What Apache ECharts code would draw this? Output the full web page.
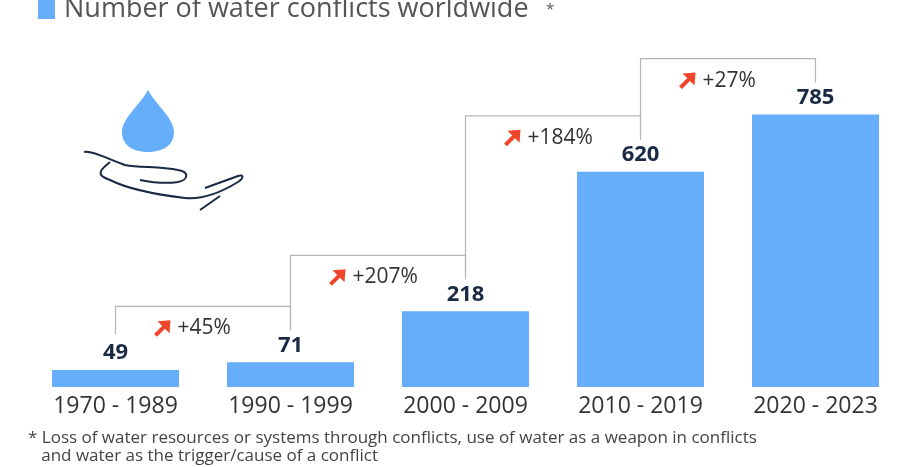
<!DOCTYPE html>
<html>
<head>
<meta charset="utf-8">
<script src="https://cdn.jsdelivr.net/npm/echarts@6/dist/echarts.min.js"></script>
<style>html,body{margin:0;padding:0;background:#fff}#c{width:903px;height:467px}</style>
</head>
<body>
<div id="c"></div>
<script>
var categories = ['1970-1989', '1990-1999', '2000-2009', '2010-2019', '2020-2023'];
var conflicts = [49, 71, 218, 620, 785];
var changes = ['+45%', '+207%', '+184%', '+27%'];

var chart = echarts.init(document.getElementById('c'));

var bracketData = changes.map(function (c, i) {
  return [i, conflicts[i], conflicts[i + 1], c];
});

var option = {
  animation: false,
  grid: { left: 28, right: 0, top: 40, bottom: 80 },
  xAxis: {
    type: 'category',
    data: categories,
    axisLine: { show: false },
    axisTick: { show: false },
    axisLabel: { color: '#333', fontSize: 23, fontFamily: 'Open Sans', margin: 8,
      formatter: function (v) { return v.replace('-', ' - '); } }
  },
  yAxis: { type: 'value', min: 0, max: 1000, show: false, splitLine: { show: false } },
  graphic: [
    { type: 'rect', shape: { x: 38, y: 0, width: 17, height: 19 }, style: { fill: '#66aef9' } },
    { type: 'text', style: { x: 64, y: -4, text: 'Number of water conflicts worldwide', fill: '#555', fontSize: 27, fontFamily: 'Open Sans' } },
    { type: 'text', style: { x: 546, y: 2, text: '*', fill: '#555', fontSize: 15, fontFamily: 'Open Sans' } },
    { type: 'text', style: { x: 28, y: 429, text: '* Loss of water resources or systems through conflicts, use of water as a weapon in conflicts\n   and water as the trigger/cause of a conflict', fill: '#444', fontSize: 17, lineHeight: 18, fontFamily: 'Open Sans' } }
  ],
  series: [
    {
      type: 'bar',
      data: conflicts,
      barWidth: 127,
      itemStyle: { color: '#66aef9' },
      label: { show: true, position: 'top', distance: 6, color: '#1a2a44', fontSize: 22, fontWeight: 'bold', fontFamily: 'Open Sans' }
    },
    {
      type: 'custom',
      data: bracketData,
      renderItem: function (params, api) {
        var p1 = api.coord([api.value(0), api.value(1)]);
        var p2 = api.coord([api.value(0) + 1, api.value(2)]);
        var yH = p2[1] - 56;
        var x1 = p1[0], x2 = p2[0];
        var ax = x1 + 40, ay = yH + 22;
        var children = [
          { type: 'polyline', shape: { points: [[x1, p1[1] - 36], [x1, yH], [x2, yH], [x2, p2[1] - 32]] }, style: { stroke: '#b5b5b5', lineWidth: 1.2, fill: 'none' } },
          { type: 'polyline', shape: { points: [[ax, ay + 7], [ax + 12, ay - 5]] }, style: { stroke: '#f0452a', lineWidth: 4, fill: 'none' } },
          { type: 'polygon', shape: { points: [[ax + 2, ay - 7], [ax + 15, ay - 8], [ax + 14, ay + 5]] }, style: { fill: '#f0452a' } },
          { type: 'text', style: { text: bracketData[params.dataIndex][3], x: ax + 22, y: ay, verticalAlign: 'middle', fill: '#333', fontSize: 21, fontFamily: 'Open Sans' } }
        ];
        if (params.dataIndex === 0) {
          children.push(
            { type: 'path', shape: { pathData: 'M148,90 C140,105 122,118 122,132 C122,146 134,152 148,152 C162,152 174,146 174,132 C174,118 156,105 148,90 Z' }, style: { fill: '#66aef9' } },
            { type: 'path', shape: { pathData: 'M84,152 C92,150 110,160 125,165 C140,168 160,166 178,170 C190,172 188,180 178,182 C165,184 150,182 140,180 M110,162 C100,170 95,175 110,180 C130,190 160,195 185,198 C205,200 225,190 238,182 C244,178 244,174 238,176 L205,188 M200,210 L220,196' }, style: { fill: 'none', stroke: '#1a2a44', lineWidth: 2 } }
          );
        }
        return { type: 'group', children: children };
      }
    }
  ]
};
chart.setOption(option);
</script>
</body>
</html>
